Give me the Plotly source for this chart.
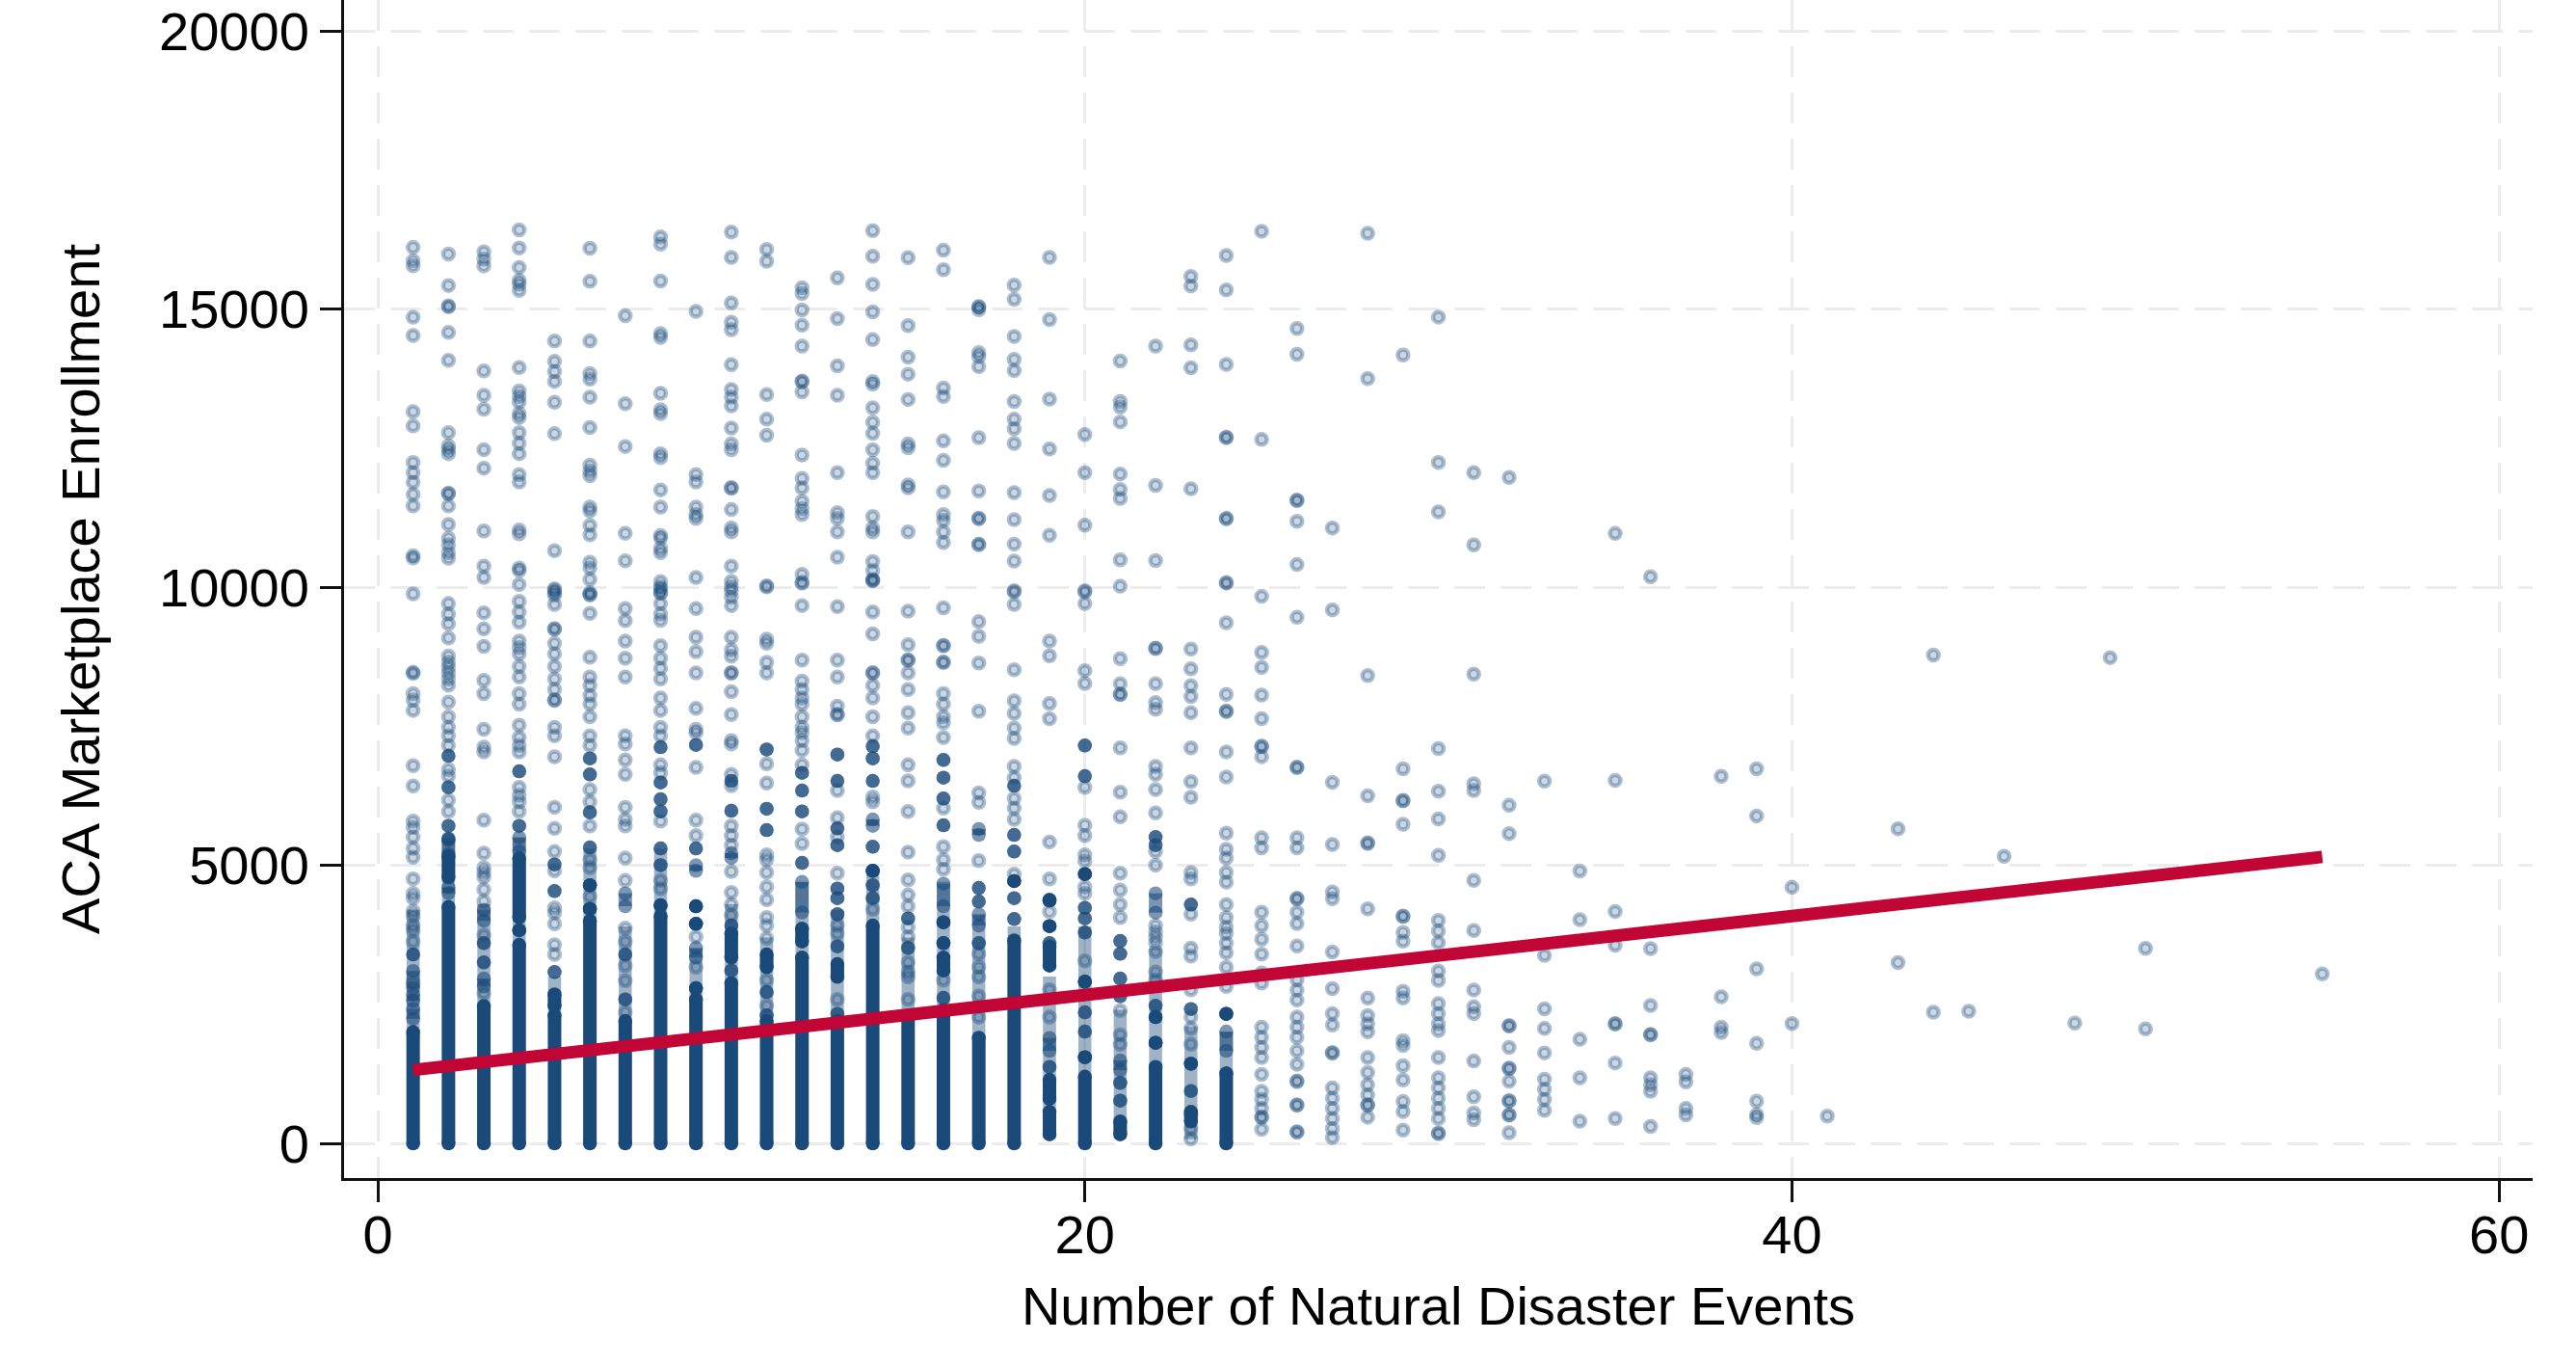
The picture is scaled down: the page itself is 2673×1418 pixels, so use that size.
import plotly.graph_objects as go

# Individually readable points, one list per number of disaster events
col_01 = [16110,15870,15780,14856,14527,13156,12902,12244,12059,11888,11668,11463,10565,10524,9880,8470,8450,8085,7970,7785,6790,6427,5795,5680,5506,5304,5142,4755,4495,4408,4177,4090,3917,3830,3628,2877]
col_02 = [15990,15425,15040,15060,14580,14080,12780,12540,12470,12400,11680,11690,11460,11130,10880,10760,10620,10520,9705,9517,9344,9088,8764,8650,8560,8460,8350,8236,7935,7670,7480,7326,7153,6720,6604,6170,5968]
col_03 = [16030,15900,15780,13890,13450,13200,12470,12140,11010,10380,10175,9540,9250,8935,8325,8085,7445,7124,7037,5812,5217,4957,4870,4784,4564,4350,3744,2704]
col_04 = [16425,16100,15750,15520,15450,15335,13950,13530,13430,13330,13120,13050,12780,12590,12400,12025,11890,11030,10960,10345,10300,10050,9745,9555,9370,9030,8915,8800,8575,8385,8085,7895,7520,7297,7153,7037,6402,6257,6142,5968]
col_05 = [14425,14060,13875,13700,13325,12760,10655,9970,9945,9900,9855,9690,9255,9245,8990,8800,8575,8350,8160,7975,7965,7480,7326,6950,6043,5662,5246,4900,4235,4148,3946,3570,3397]
col_06 = [16095,15500,14425,13840,13740,13415,12870,12195,12090,12005,11440,11370,11110,10940,10450,10345,10140,9900,9870,9860,9530,8740,8385,8235,8050,7900,7670,7326,7153,6361,6142,5708,5102,4957,4437]
col_07 = [14880,13300,12530,10970,10475,9615,9400,9030,8725,8385,7330,7182,6893,6633,6043,5824,5708,5130,4726,3871,3628,3195,2923,2357]
col_08 = [16300,16170,15505,14560,14490,13485,13190,13120,12400,12330,11750,11440,10930,10880,10700,10620,10100,9970,9900,10005,9895,9705,9520,9404,8950,8725,8540,8350,8010,7785,7480,7326,6806,6662,5795,4726,4582]
col_09 = [14960,12025,11890,11440,11305,11235,10175,9615,9100,8840,8460,7820,7445,7384,6760,5812,5535,3715,3166]
col_10 = [16385,15930,15110,14765,14630,14000,13555,13415,13260,12860,12575,12470,11790,11780,11395,11065,10995,10380,10105,9935,10005,9820,9670,9100,8875,8760,8465,8455,8120,7710,7240,7182,6633,6430,5708,5535,5362,4888,4512,4293,4100]
col_11 = [16075,15860,13465,13020,12730,10025,10005,9065,8990,8650,8460,6824,6477,5188,5102,4870,4610,4380,4062,3917,3686,2935,2473]
col_12 = [15385,15280,14985,14710,14335,13705,13695,13510,12375,11955,11785,11545,11410,11305,10230,10090,10070,9670,8690,8310,8160,8010,7895,7670,7480,7384,7240,7066,6806,5651,5390]
col_13 = [15560,14830,13980,13450,12060,11340,11235,10995,10540,9650,8690,8385,7860,7715,7705,6344,5853,5506,4859,3917,3773,2588]
col_14 = [16410,15950,15445,14950,14450,13700,13650,13225,12965,12765,12470,12230,12060,11270,11065,10995,10460,10300,10140,10125,10115,9555,9160,8465,8455,8235,8010,7670,7326,6228,6142,4206]
col_15 = [15925,14705,14135,13830,13375,12575,12505,11840,11785,10995,9570,8965,8695,8685,8460,8160,7745,7465,6806,6517,5968,5235,4738,4466,4264,3888,3715,3253,3080,2993,2588]
col_16 = [16060,15710,13580,13430,12630,12280,11715,11305,11200,10995,10805,9630,8955,8945,8655,8645,8085,7895,7670,7560,7297,6026,5333,5102,4928,2935]
col_17 = [15045,15035,14990,14220,14150,13965,12690,11730,11240,11230,10775,10765,9380,9118,8635,7770,6303,6130,5084,3409,3166,2993,2646,2270]
col_18 = [15430,15175,14510,14095,13895,13340,13020,12850,12585,11700,11215,10775,10470,9935,9915,9690,8515,7955,7730,7465,7280,6777,6575,6200,6026,5824,4842]
col_19 = [15930,14810,13380,12485,11650,10935,9030,8765,7910,7635,5419,4755,4166,2761,2270]
col_20 = [12745,12060,11115,9935,9915,9705,8500,8270,6402,5720,5535,5188,5073,4610,4495,3282]
col_21 = [14067,13337,13240,12972,12036,11756,11598,10492,10017,8716,8266,8077,8067,7112,6315,5870,4859,4553,4293,4060,2386,1952,1779]
col_22 = [14335,11830,10480,8905,8895,8266,7926,7805,6777,6633,6361,5940,5246,5003,3917,3800,3700,3600,3450,3080,2935]
col_23 = [15587,15416,14358,13945,11768,8887,8534,8230,8035,7744,7112,6503,6224,4870,4755,4120,3512,3368,2761,2272,2068,1779,510,265,80]
col_24 = [15964,15344,14006,12698,12688,11239,11229,10083,10073,9361,8072,7773,7763,7038,6588,5579,5287,5130,4870,4697,4293,4060,3888,3772,3599,3426,3166,2819]
col_25 = [16400,12656,9835,8826,8558,8060,7634,7141,7131,6953,5494,5312,4157,3913,3670,3402,3062,2880,2090,1907,1725,1542,1240,935,790,630,475,465,253]
col_26 = [14650,14188,11567,11557,11185,10407,9458,6765,6755,5494,5312,4405,4395,4157,3950,3548,2940,2758,2576,2272,2090,1907,1664,1420,1121,1111,695,685,210,200]
col_27 = [11064,9592,6491,5373,4520,4400,3439,2782,2333,2126,1632,1622,995,812,630,447,265,105]
col_28 = [16365,13751,8412,6248,5402,5392,4217,2612,2296,2150,2004,1542,1275,1055,873,695,685,470]
col_29 = [14176,6734,6168,6158,5737,4088,4078,3792,3634,2734,2612,1846,1760,1396,1141,752,570,240]
col_30 = [14857,12243,11355,7099,6333,5834,5178,4010,3816,3610,3098,2928,2515,2333,2150,2029,1542,1177,995,812,630,447,185,175]
col_31 = [12060,10760,8437,6467,6345,4728,3828,2758,2455,2333,1480,837,545,423]
col_32 = [11975,6078,5567,2118,2108,1725,1352,1342,1116,769,759,515,505,192]
col_33 = [6515,3378,2418,2065,1627,1153,970,788,594]
col_34 = [4898,4023,1870,1177,400]
col_35 = [10966,6527,4168,3560,2155,2145,1445,447]
col_36 = [10188,3500,2478,1960,1950,1177,1055,935,302]
col_37 = [1238,1104,630,510]
col_38 = [6600,2636,2090,1992]
col_39 = [6735,5887,3136,1800,757,518,465]
col_40 = [4604,2154]
col_41 = [491]
col_43 = [5656,3251]
col_44 = [8778,2358]
col_45 = [2375]
col_46 = [5161]
col_48 = [2163]
col_49 = [8734]
col_50 = [3507,2057]
col_55 = [3047]

event_columns = {1:col_01,2:col_02,3:col_03,4:col_04,5:col_05,6:col_06,7:col_07,8:col_08,9:col_09,10:col_10,
                 11:col_11,12:col_12,13:col_13,14:col_14,15:col_15,16:col_16,17:col_17,18:col_18,19:col_19,20:col_20,
                 21:col_21,22:col_22,23:col_23,24:col_24,25:col_25,26:col_26,27:col_27,28:col_28,29:col_29,30:col_30,
                 31:col_31,32:col_32,33:col_33,34:col_34,35:col_35,36:col_36,37:col_37,38:col_38,39:col_39,40:col_40,
                 41:col_41,43:col_43,44:col_44,45:col_45,46:col_46,48:col_48,49:col_49,50:col_50,55:col_55}

# Fully overplotted stretch of each column, from zero upward
base_events = [1,2,3,4,5,6,7,8,9,10,11,12,13,14,15,16,17,18,20,22,24]
base_top = [2000,4250,2470,3570,2300,4000,2200,4090,2590,2880,2200,3340,2200,3917,2245,2400,1900,3650,1200,1375,1259]

# Continuous but not saturated stretch of each column: event, low, high
band_events = [1,2,3,4,5,6,7,8,9,10,11,12,13,14,15,16,17,18,19,20,21,22,23,24]
band_low = [2000,4250,2470,3570,2300,4000,2200,4090,2590,2880,2200,3340,2200,3917,2245,2400,1900,3650,161,1200,161,1375,80,1259]
band_high = [4200,5480,4300,5500,3000,5300,3900,5300,3500,4300,3700,4700,4200,4900,3700,4700,4100,3900,3000,3900,2400,3500,2100,2000]

# Other overplotted stretches lower down: event, low, high
solid_events = [2,4,4,5,6,6,8,9,9,9,10,11,12,13,14,16,16,16,18,19,19,19,19,19,20,20,20,21,22,22,23,23,24]
solid_low = [4784,4062,3831,2470,4640,4218,4281,4264,3946,2790,3339,3166,3628,2993,4900,3975,3600,3108,4715,4368,3905,3195,800,161,4842,2906,1548,161,2270,1808,1432,393,2328]
solid_high = [5160,5130,3831,2680,4640,4218,4281,4264,3946,2790,3773,3397,3860,3224,4900,3975,3600,3340,4715,4368,3905,3542,1143,566,4842,2906,1548,393,2270,1808,1432,566,2328]

# Partly overplotted stretches and clusters: event, low, high
cluster_events = [1,1,1,1,2,2,2,2,2,2,3,3,3,3,4,4,4,5,5,5,6,6,6,6,7,7,7,8,8,8,8,8,8,9,9,9,9,10,10,10,10,10,11,11,11,11,11,12,12,12,12,12,13,13,13,13,13,13,13,13,13,14,14,14,14,14,14,14,15,15,16,16,16,16,16,16,17,17,17,17,17,18,18,18,18,18,19,19,19,19,20,20,20,20,20,20,20,21,21,21,21,21,21,21,22,22,22,22,23,23,23,24]
cluster_low = [3397,2790,2560,2240,6968,6402,5708,5478,5200,4500,4000,3600,3253,2820,6690,5708,5250,5015,4535,3080,6922,6633,5951,5321,4264,3397,2588,7124,6488,6188,5968,5304,5003,7164,5304,4900,3339,6517,5980,5131,3917,3108,7083,6015,5633,2721,2300,6662,6344,5968,5044,4150,6991,6517,5662,5362,4582,4408,4120,3542,2328,7141,6922,6517,5708,5333,4640,4408,4044,3513,6893,6575,6200,5720,4264,2617,5546,4593,4350,3917,3600,6430,5546,5246,4408,4033,4379,1664,1375,3600,7153,6604,4235,4044,3790,2357,2010,3640,3409,2964,2646,1317,1086,768,5506,4148,2473,5362,2415,941,4293,1664]
cluster_high = [3397,3100,2680,2420,6968,6402,5708,5478,5450,4600,4200,3600,3253,2964,6690,5708,5500,5015,4535,3080,6922,6633,5951,5321,4495,3397,2588,7124,6488,6188,5968,5304,5003,7164,5304,5000,3513,6517,5980,5217,3917,3108,7083,6015,5633,2721,2300,6662,6344,5968,5044,4700,6991,6517,5662,5362,4582,4408,4120,3542,2328,7141,6922,6517,5824,5333,4640,4408,4044,3513,6893,6575,6200,5720,4668,2617,5651,4593,4350,4120,3600,6430,5546,5246,4408,4033,4379,1895,1375,3600,7153,6604,4235,4044,3790,2357,2010,3640,3409,2964,2646,1490,1086,768,5506,4495,2473,5362,2415,941,4293,2010]

fit_events = [1,55]
fit_enrollment = [1320,5150]

x_ticks = [0,20,40,60]
y_ticks = [0,5000,10000,15000,20000]
x_title = "Number of Natural Disaster Events"
y_title = "ACA Marketplace Enrollment"

NAVY = "#1a4a7a"
FONT = "Liberation Sans"

fig = go.Figure()

# continuous column stretches
bx, by = [], []
for e, lo, hi in zip(band_events, band_low, band_high):
    bx += [e, e, None]; by += [lo, hi, None]
fig.add_trace(go.Scatter(x=bx, y=by, mode="lines",
    line=dict(color="rgba(26,74,122,0.42)", width=13.5), hoverinfo="skip", showlegend=False))

# clusters
cx, cy = [], []
for e, lo, hi in zip(cluster_events, cluster_low, cluster_high):
    cx += [e, e, None]; cy += [lo, hi, None]
fig.add_trace(go.Scatter(x=cx, y=cy, mode="lines+markers",
    line=dict(color="rgba(26,74,122,0.58)", width=14), marker=dict(color="rgba(26,74,122,0.58)", size=14.5, line=dict(width=0)),
    hoverinfo="skip", showlegend=False))

# single points (rings)
px, py = [], []
for e, vals in event_columns.items():
    px += [e] * len(vals); py += vals
fig.add_trace(go.Scatter(x=px, y=py, mode="markers",
    marker=dict(size=11, color="rgba(26,74,122,0.22)", line=dict(color="rgba(26,74,122,0.36)", width=4.5)),
    showlegend=False))

# solid runs and bases
sx, sy = [], []
for e, hi in zip(base_events, base_top):
    sx += [e, e, None]; sy += [0, hi, None]
for e, lo, hi in zip(solid_events, solid_low, solid_high):
    sx += [e, e, None]; sy += [lo, hi, None]
fig.add_trace(go.Scatter(x=sx, y=sy, mode="lines+markers",
    line=dict(color=NAVY, width=14), marker=dict(color=NAVY, size=14.5, line=dict(width=0)),
    hoverinfo="skip", showlegend=False))

fig.add_trace(go.Scatter(x=fit_events, y=fit_enrollment, mode="lines",
    line=dict(color="#c10534", width=13), showlegend=False))

axis_common = dict(
    showline=True, linecolor="#111111", linewidth=3,
    ticks="outside", ticklen=22, tickwidth=3, tickcolor="#111111",
    showgrid=True, gridcolor="#ececec", gridwidth=3, griddash="32px,16px",
    zeroline=False, tickfont=dict(family=FONT, size=56, color="black"),
)
fig.update_xaxes(range=[-0.954, 60.95], tickmode="array", tickvals=x_ticks, ticktext=[str(t) for t in x_ticks],
    ticklabelstandoff=-14,
    title=dict(text=x_title, font=dict(family=FONT, size=56, color="black"), standoff=24), **axis_common)
fig.update_yaxes(range=[-624, 20558], tickmode="array", tickvals=y_ticks, ticktext=[str(t) for t in y_ticks],
    title=dict(text=y_title, font=dict(family=FONT, size=56, color="black"), standoff=44), **axis_common)
fig.update_layout(width=2673, height=1418, autosize=False,
    margin=dict(l=357, r=45, t=0, b=196, autoexpand=False),
    paper_bgcolor="white", plot_bgcolor="white", showlegend=False)
fig.write_html("out.html", post_script="document.body.style.margin='0';", config={"displayModeBar": False})
